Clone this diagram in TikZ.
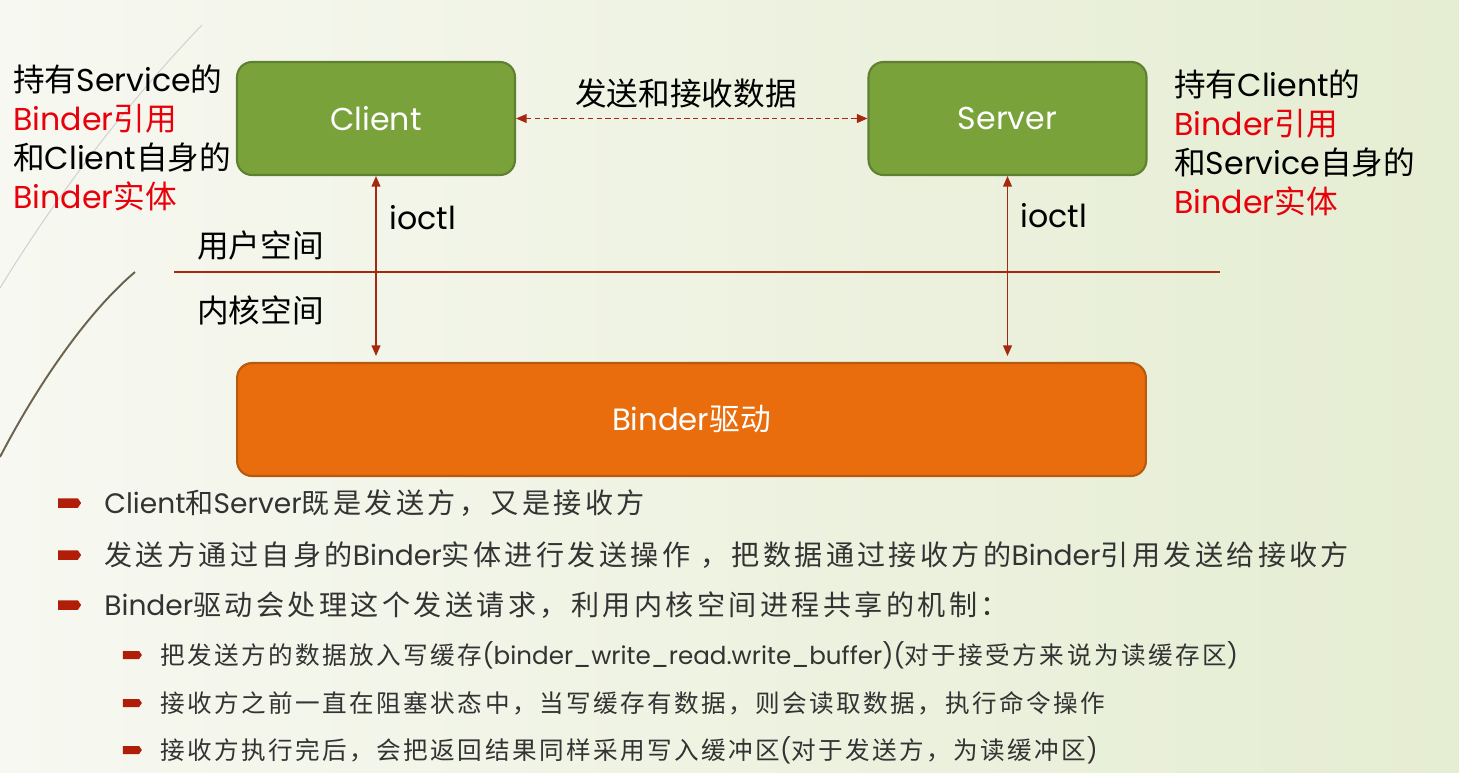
\documentclass[tikz,border=0pt]{standalone}
\usepackage{fontspec}
\setmainfont{Poppins}
\newfontfamily\latnfont{Poppins}
\newfontfamily\cjkfont{Noto Sans CJK SC}
\newfontfamily\cjkwide{Noto Sans CJK SC}[LetterSpace=12]
\newfontfamily\cjkmid{Noto Sans CJK SC}[LetterSpace=10]
\usetikzlibrary{arrows.meta,shapes.symbols}

% han characters switch to the CJK family by themselves
\XeTeXinterchartokenstate=1
\newXeTeXintercharclass\hanclass
\makeatletter
\count@="3000 \loop\XeTeXcharclass\count@=\hanclass\advance\count@ 1 \ifnum\count@<"3040 \repeat
\count@="4E00 \loop\XeTeXcharclass\count@=\hanclass\advance\count@ 1 \ifnum\count@<"A000 \repeat
\count@="FF00 \loop\XeTeXcharclass\count@=\hanclass\advance\count@ 1 \ifnum\count@<"FFF0 \repeat
\makeatother
\let\cjk\cjkfont
\XeTeXinterchartoks 0 \hanclass = {\cjk}
\XeTeXinterchartoks 4095 \hanclass = {\cjk}
\XeTeXinterchartoks \hanclass 0 = {\latnfont}
\XeTeXinterchartoks 4095 0 = {\latnfont}

\definecolor{bgleft}{HTML}{F7F8F1}
\definecolor{bgright}{HTML}{E5EDD2}
\definecolor{boxgreen}{HTML}{79A33A}
\definecolor{boxgreenline}{HTML}{5E8030}
\definecolor{boxorange}{HTML}{E96D0C}
\definecolor{boxorangeline}{HTML}{B65A0E}
\definecolor{linkred}{HTML}{A5280F}
\definecolor{refred}{HTML}{E8000B}
\definecolor{markred}{HTML}{B01E0A}
\definecolor{bodytext}{HTML}{333333}
\definecolor{curvebrown}{HTML}{6B6250}

\tikzset{
  procbox/.style={draw=boxgreenline, line width=1.2pt, fill=boxgreen, rounded corners=0.3cm,
    minimum width=5.56cm, minimum height=2.26cm, text=white, font=\fontsize{18}{20}\selectfont},
  drvbox/.style={draw=boxorangeline, line width=1.2pt, fill=boxorange, rounded corners=0.3cm,
    minimum width=18.18cm, minimum height=2.26cm, text=white, font=\fontsize{17.5}{20}\selectfont},
  link/.style={draw=linkred, line width=0.8pt, {Triangle[length=6pt,width=5pt]}-{Triangle[length=6pt,width=5pt]}},
  sidelabel/.style={anchor=west, align=left, inner sep=0pt, font=\fontsize{18}{22.2}\selectfont},
  midlabel/.style={inner sep=0pt, font=\fontsize{18}{20}\selectfont},
  bulletbig/.style={signal, signal to=east, signal pointer angle=110, fill=markred, inner sep=0pt,
    minimum width=0.46cm, minimum height=0.19cm},
  bulletsmall/.style={signal, signal to=east, signal pointer angle=110, fill=markred, inner sep=0pt,
    minimum width=0.38cm, minimum height=0.16cm},
  bigtext/.style={anchor=west, inner sep=0pt, text=bodytext, font=\fontsize{16}{18}\selectfont\let\cjk\cjkwide},
  smalltext/.style={anchor=west, inner sep=0pt, text=bodytext, font=\fontsize{14}{17}\selectfont\let\cjk\cjkmid}
}

\begin{document}
\begin{tikzpicture}[x=0.02cm,y=-0.02cm]
  \useasboundingbox (0,0) rectangle (1459,772);
  \shade[left color=bgleft, right color=bgright] (0,0) rectangle (1459,772);
  % slide decoration
  \draw[gray!35, line width=0.6pt] (0,288) .. controls (60,190) and (130,100) .. (202,25);
  \draw[curvebrown, line width=1.1pt] (0,457) .. controls (40,380) and (90,310) .. (135,272);

  \node (client) at (376,118.5) [procbox] {Client};
  \node (server) at (1007.5,118.5) [procbox] {Server};
  \node (binder) at (691.5,419.5) [drvbox] {Binder驱动};

  \node (sendlbl) at (686,93) [midlabel] {发送和接收数据};
  \draw[link, dashed, dash pattern=on 3pt off 2pt] (client.east) -- (server.west);

  \draw[link, shorten >=3.4pt] (client.south) -- (client.south |- binder.north);
  \draw[link, shorten >=3.4pt] (server.south) -- (server.south |- binder.north);
  \node (cioctl) at (389,218) [midlabel, anchor=west] {ioctl};
  \node (sioctl) at (1020,216) [midlabel, anchor=west] {ioctl};

  \coordinate (divl) at (174,272);
  \coordinate (divr) at (1220,272);
  \draw[linkred, line width=0.6pt] (divl) -- (divr);
  \node (user) at (197,245) [midlabel, anchor=west] {用户空间};
  \node (kern) at (197,310) [midlabel, anchor=west] {内核空间};

  \node (cref) at (13,138) [sidelabel] {持有Service的\\\textcolor{refred}{Binder引用}\\和Client自身的\\\textcolor{refred}{Binder实体}};
  \node (sref) at (1174,143) [sidelabel] {持有Client的\\\textcolor{refred}{Binder引用}\\和Service自身的\\\textcolor{refred}{Binder实体}};

  % notes below the picture
  \node (b1) at (68,503) [bulletbig] {};
  \node (b2) at (68,555) [bulletbig] {};
  \node (b3) at (68,605) [bulletbig] {};
  \node (t1) at (104,503) [bigtext] {Client和Server既是发送方，又是接收方};
  \node (t2) at (104,555) [bigtext] {发送方通过自身的Binder实体进行发送操作 ，把数据通过接收方的Binder引用发送给接收方};
  \node (t3) at (104,605) [bigtext] {Binder驱动会处理这个发送请求，利用内核空间进程共享的机制：};
  \node (s1) at (131,655) [bulletsmall] {};
  \node (s2) at (131,703) [bulletsmall] {};
  \node (s3) at (131,750) [bulletsmall] {};
  \node (u1) at (160,655) [smalltext] {把发送方的数据放入写缓存(binder\_write\_read.write\_buffer)(对于接受方来说为读缓存区)};
  \node (u2) at (160,703) [smalltext] {接收方之前一直在阻塞状态中，当写缓存有数据，则会读取数据，执行命令操作};
  \node (u3) at (160,750) [smalltext] {接收方执行完后，会把返回结果同样采用写入缓冲区(对于发送方，为读缓冲区)};
\end{tikzpicture}
\end{document}
